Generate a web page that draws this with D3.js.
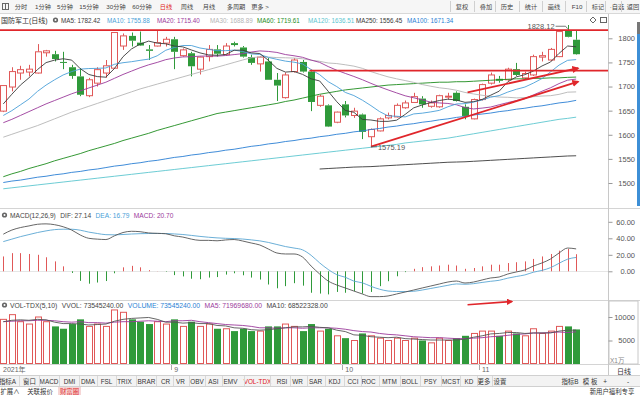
<!DOCTYPE html>
<html><head><meta charset="utf-8">
<script src="https://cdn.jsdelivr.net/npm/d3@7"></script>
<style>
html,body{margin:0;padding:0;background:#fff;overflow:hidden;}
svg{display:block;font-family:"Liberation Sans","Noto Sans CJK SC",sans-serif;}
</style></head><body>
<svg id="c" width="640" height="395"></svg>
<script>
// ---------- DATA ----------
const opens  = [1649,1699,1728,1730,1728,1770,1767,1751,1740,1721, 1681,1707,1728,1738,1784,1805,1791,1777,1784,1790, 1798,1764,1769,1736,1762,1777,1766,1790,1781,1761, 1747,1752,1714,1677,1731,1751,1731,1661,1661,1626, 1663,1640,1642,1596,1608,1635,1637,1656,1667,1675, 1659,1658,1678,1687,1658,1633,1673,1707,1716,1714, 1736,1718,1724,1761,1755,1762,1817,1797];
const highs  = [1703,1740,1743,1745,1788,1776,1774,1772,1745,1738, 1718,1740,1755,1813,1810,1812,1814,1786,1817,1803, 1803,1779,1772,1762,1786,1786,1790,1793,1784,1766, 1763,1759,1728,1729,1759,1755,1735,1683,1663,1648, 1670,1656,1644,1613,1636,1646,1665,1671,1687,1680, 1671,1683,1687,1690,1663,1675,1706,1729,1722,1739, 1749,1731,1766,1772,1780,1817,1828.12,1817];
const lows   = [1647,1690,1714,1721,1727,1762,1752,1736,1716,1680, 1678,1700,1718,1737,1776,1783,1784,1755,1783,1783, 1736,1762,1721,1725,1752,1762,1764,1783,1760,1745, 1731,1714,1670,1675,1729,1729,1649,1658,1616,1624, 1636,1635,1591,1575.19,1607,1632,1636,1654,1667,1656, 1656,1656,1673,1669,1632,1632,1671,1704,1708,1712, 1722,1716,1722,1752,1753,1761,1802,1766];
const closes = [1702,1731,1735,1736,1772,1774,1757,1749,1722,1683, 1714,1735,1743,1812,1805,1795,1785,1774,1791,1798, 1772,1776,1742,1761,1777,1768,1784,1786,1762,1749, 1761,1714,1702,1724,1755,1731,1668,1680,1617,1647, 1640,1649,1606,1611,1633,1640,1661,1666,1679,1663, 1666,1681,1680,1670,1639,1673,1704,1724,1712,1736, 1724,1727,1762,1764,1777,1814,1803,1767];

const ma5   = [1664,1684,1703,1718,1735.2,1749.6,1754.8,1757.6,1754.8,1737,1725,1720.6,1719.4,1737.4,1761.8,1778,1788,1794.2,1790,1788.6,1784,1782.2,1775.8,1769.8,1765.6,1764.8,1766.4,1775.2,1775.4,1769.8,1768.4,1754.4,1737.6,1730,1731.2,1725.2,1716,1711.6,1690.2,1668.6,1650.4,1646.6,1631.8,1630.6,1627.8,1627.8,1630.2,1642.2,1655.8,1661.8,1667,1671,1673.8,1672,1667.2,1668.6,1673.2,1682,1690.4,1709.8,1720,1724.6,1732.2,1742.6,1750.8,1768.8,1784,1782.42];
const ma10  = [1640,1650,1662,1674,1690,1703,1714,1724,1731,1736.1,1737.3,1737.7,1738.5,1746.1,1749.4,1751.5,1754.3,1756.8,1763.7,1775.2,1781,1785.1,1785,1779.9,1777.1,1774.4,1774.3,1775.5,1772.6,1767.7,1766.6,1760.4,1756.4,1752.7,1750.5,1746.8,1735.2,1724.6,1710.1,1699.9,1687.8,1681.3,1671.7,1660.4,1648.2,1639.1,1638.4,1637,1643.2,1644.8,1647.4,1650.6,1658,1663.9,1664.5,1667.8,1672.1,1677.9,1681.2,1688.5,1694.3,1698.9,1707.1,1716.5,1730.3,1744.4,1754.3,1755.88];
const ma20  = [1625,1632,1640,1648,1656,1664,1671,1678,1685,1691,1697,1703,1709,1717,1725,1732,1739,1745,1750,1755.7,1759.2,1761.4,1761.8,1763,1763.3,1763,1764.3,1766.2,1768.2,1771.5,1773.8,1772.8,1770.7,1766.3,1763.8,1760.6,1754.8,1750.1,1741.4,1733.8,1727.2,1720.9,1714.1,1706.6,1699.4,1693,1686.8,1680.8,1676.7,1672.4,1667.6,1666,1664.9,1662.2,1656.4,1653.5,1655.3,1657.5,1662.2,1666.7,1670.9,1674.8,1682.6,1690.2,1697.4,1706.1,1713.2,1715.4];
const ma30  = [1595,1601,1607,1613,1619,1626,1633,1640,1647,1653,1659,1665,1671,1677,1683,1689,1695,1700,1705,1710,1715,1720,1725,1730,1735,1740,1745,1750,1755,1759.7,1761.6,1761.1,1760,1759.6,1759,1757.6,1754.6,1752.3,1748.8,1747.6,1745.1,1742.3,1737.7,1731,1725.3,1720.1,1716,1712.4,1708.6,1704.1,1700.6,1697.4,1695.4,1692.3,1687.7,1684.6,1681.9,1679.8,1678.2,1677.7,1676.5,1676.9,1678.9,1680.3,1681,1683.8,1688.3,1688.89];
const ma60  = [1513,1519,1524,1530,1535,1540,1546,1551,1556,1561,1567,1572,1577,1582,1588,1593,1598,1603,1609,1614,1619,1624,1629,1634,1639,1644,1647,1650,1653,1656,1659,1662,1665,1669,1672,1676,1680,1684,1687,1690,1693,1695,1697,1699,1701,1703,1704,1705,1706,1707,1708,1709,1709,1710,1710,1711,1712,1713,1714,1715,1716,1716,1717,1717,1718,1718,1719,1719.61];
const ma120 = [1488,1490,1492,1494,1496,1498,1500,1502,1504,1506,1508,1510,1512,1514,1516,1518,1520,1522,1524,1526,1528,1530,1532,1534,1536,1538,1540,1542,1544,1546,1548,1550,1552,1554,1556,1558,1560,1562,1564,1566,1568,1570,1572,1574,1576,1578,1580,1583,1585,1587,1589,1591,1593,1596,1599,1602,1605,1608,1611,1614,1617,1620,1623,1626,1629,1632,1634,1636.51];
const ma250 = [null,null,null,null,null,null,null,null,null,null,null,null,null,null,null,null,null,null,null,null,null,null,null,null,null,null,null,null,null,null,null,null,null,null,null,null,null,1529,1530,1531,1532,1533,1533.5,1534,1535,1536,1537,1538,1539,1540,1541,1542,1543,1543.5,1544,1545,1546,1547,1548,1549,1550,1551,1552,1553,1554,1555,1556,1556.45];
const ma100 = [1501,1504,1506,1509,1512,1514,1517,1519,1522,1524,1527,1529,1532,1535,1537,1540,1542,1545,1547,1550,1553,1555,1558,1560,1563,1565,1568,1570,1573,1576,1578,1581,1583,1586,1588,1591,1593,1596,1598,1601,1603,1606,1608,1611,1613,1616,1618,1621,1623,1626,1628,1631,1633,1636,1638,1641,1643,1645,1648,1650,1653,1655,1658,1660,1663,1666,1668,1671.34];

const dif  = [45,50,53,55,57,57.5,56.5,54,50,44, 40,39,38.5,43,47,48.5,48,46.5,46,45.5, 43,41.5,39,37.5,37.5,37,38,38.5,36.7,34.3, 31.9,27.0,22.2,21.0,21.0,17.3,6.4,-3.3,-11.8,-16.6, -20.2,-23.9,-27.5,-30.7,-30.7,-29.9,-27.5,-25.1,-22.7,-20.2, -17.8,-15.4,-13.0,-11.8,-14.2,-13.0,-10.5,-8.1,-6.9,-3.3, -0.8,1.6,6.4,10.1,14.9,22.2,28.2,27.14];
const dea  = [36,39,42,44.5,47,49,50.5,51,51,49.8, 47.5,45.8,44.4,44.2,44.6,45.2,45.6,45.8,45.9,45.8, 45.3,44.6,43.5,42.3,41.3,40.5,40.0,39.7,39.1,38.1, 36.9,35.0,32.5,30.0,28.2,26.0,19.4,10.2,2.2,-4.1, -7.2,-11.9,-14.0,-18.2,-21.7,-23.9,-24.5,-24.6,-24.2,-22.7, -20.8,-18.9,-17.0,-15.3,-15.7,-15.0,-13.5,-12.1,-10.9,-8.3, -6.3,-4.4,-1.1,1.1,4.4,9.7,14.7,16.79];
const macd = [18,22,22,21,20,17,12,6,-2,-11.6, -15,-13.6,-11.8,-2.4,4.8,6.6,4.8,1.4,0.2,-0.6, -4.6,-6.2,-9,-9.6,-7.6,-7,-4,-2.4,-4.8,-7.6, -10,-16,-20.6,-18,-14.4,-17.4,-26,-27,-28,-25, -26,-24,-27,-25,-18,-12,-6,-1,3,5, 6,7,8,7,3,4,6,8,8,10, 11,12,15,18,21,25,27,20.70];

// volume in units of 10k (万)
const volume = [9500,10500,9000,8500,10000,9000,8000,7500,8500,9500, 8000,8500,8000,11500,11000,9500,9000,8500,9000,8500, 9500,8000,9000,8000,8500,7500,7500,7000,7500,7000, 7000,8000,8000,8500,8000,7000,8500,7000,7500,6000, 5500,5000,6500,6000,5500,5000,5500,5000,5500,5000, 4500,5500,5000,5500,6000,6500,7000,7000,6000,7000, 6500,6000,7500,6500,7000,8000,8000,7354.5];
const volMa5  = [9000,9300,9400,9300,9500,9400,8900,8600,8600,8500,8300,8400,8500,9100,9500,9700,9800,9900,9500,8900,8900,8700,8800,8600,8600,8200,8100,7700,7600,7300,7200,7300,7500,7700,7900,7900,8000,7800,7700,7200,6900,6200,6100,5800,5700,5600,5700,5400,5300,5200,5100,5100,5100,5100,5300,5700,6000,6400,6500,6700,6700,6500,6600,6600,6600,7000,7200,7197];
const volMa10 = [9000,9100,9200,9200,9300,9300,9200,9000,8900,9000,8800,8800,8700,8900,9000,9000,9100,9200,9100,9000,9200,9200,9300,9000,8800,8600,8400,8300,8200,8000,7700,7700,7600,7700,7700,7600,7700,7700,7700,7600,7400,7100,6900,6800,6500,6300,6200,6000,5800,5700,5600,5600,5500,5400,5400,5500,5600,5800,5900,6100,6300,6400,6600,6600,6700,6800,6700,6852];

const monthLabels = [{i:0,t:"2021年"},{i:20,t:"9"},{i:40,t:"10"},{i:56,t:"11"}];
const priceTicks = [1500,1550,1600,1650,1700,1750,1800];
const macdTicks = [0,20,40,60];
const volTicks = [5000,10000];
// user drawings (in data coordinates: candle index, price)
const hLines = [{from:-0.5,p:1817},{from:35.8,p:1733}];
const arrows = [{i0:43,p0:1575.19,i1:67,p1:1710},{i0:54.3,p0:1688,i1:67,p1:1738}];
const volArrow = {i0:54.3,v0:12600,i1:59.5,v1:13300};

const maLegend = [["MA5: 1782.42","#3a3a3a",61],["MA10: 1755.88","#4a9fd8",107],["MA20: 1715.40","#9b3a9b",157],["MA30: 1688.89","#b5b5b5",210],["MA60: 1719.61","#1e8c1e",257],["MA120: 1636.51","#5cc6cf",308],["MA250: 1556.45","#3a3a3a",356],["MA100: 1671.34","#2a7fd4",407]];
const topBar = ["分时","1分钟","5分钟","15分钟","30分钟","60分钟","日线","周线","月线","多周期","更多 >"];
const topBarX = [21,43,65,89,116,142,166,187,209,236,260];
const topRight = ["复权","叠加","历史","统计","画线","F10","标记","·自选","返回"];
const topRightX = [462,486,507,531,554,577,598,617,633];
const botBar = ["指标A","窗口","MACD","DMI","DMA","FSL","TRIX","BRAR","CR","VR","OBV","ASI","EMV","VOL-TDX","RSI","WR","SAR","KDJ","CCI","ROC","MTM","BOLL","PSY","MCST","KD","更多","设置"];
const botBarX = [7.5,29.5,49,69.5,88,106.5,124.5,146.5,165.5,180.5,197,213.5,230.5,257.5,282,297.5,315.5,334.5,353,368.5,389.5,410,430.5,451,469,484,500];

// ---------- DRAW ----------
const svg = d3.select("#c");
const RED="#e05858", GREEN="#2f9a3a", DRAW="#e0262b";
const x = d3.scaleLinear().domain([0,67]).range([3.3,576.15]);
const yP = d3.scaleLinear().domain([1500,1800]).range([183,38.3]);
const yM = d3.scaleLinear().domain([0,60]).range([271.3,221.8]);
const yV = d3.scaleLinear().domain([0,10000]).range([364,317]);
const AX = 608.5;

// backgrounds
svg.append("rect").attr("width",640).attr("height",395).attr("fill","#fff");
svg.append("rect").attr("x",0).attr("y",0).attr("width",640).attr("height",13).attr("fill","#f6f6f6");
svg.append("line").attr("x1",0).attr("x2",640).attr("y1",13.5).attr("y2",13.5).attr("stroke","#d8d8d8");
svg.append("rect").attr("x",0).attr("y",375).attr("width",640).attr("height",11).attr("fill","#f3f3f3");
svg.append("line").attr("x1",0).attr("x2",640).attr("y1",375.5).attr("y2",375.5).attr("stroke","#d0d0d0");
svg.append("line").attr("x1",0).attr("x2",640).attr("y1",386.5).attr("y2",386.5).attr("stroke","#d0d0d0");

// pane separators
[208.5,300.5,364.5].forEach(yy=>svg.append("line").attr("x1",0).attr("x2",640).attr("y1",yy).attr("y2",yy).attr("stroke","#d4d4d4"));
svg.append("line").attr("x1",AX).attr("x2",AX).attr("y1",14).attr("y2",375).attr("stroke","#c8c8c8");
svg.append("rect").attr("x",609).attr("y",301).attr("width",29).attr("height",63).attr("fill","none").attr("stroke","#c8c8c8");
svg.append("rect").attr("x",637).attr("y",22).attr("width",3).attr("height",12).attr("fill","#777");
svg.append("rect").attr("x",637).attr("y",34).attr("width",3).attr("height",172).attr("fill","#3d8fd6");

// top toolbar
svg.append("rect").attr("x",2.5).attr("y",3.5).attr("width",6).attr("height",6).attr("fill","none").attr("stroke","#666");
svg.append("line").attr("x1",5.5).attr("x2",5.5).attr("y1",3.5).attr("y2",9.5).attr("stroke","#666");
topBar.forEach((t,k)=>svg.append("text").attr("x",topBarX[k]).attr("y",9).attr("text-anchor","middle").attr("font-size",6.2).attr("fill",t==="日线"?"#e02020":"#444").text(t));
topRight.forEach((t,k)=>{
  svg.append("text").attr("x",topRightX[k]).attr("y",9).attr("text-anchor","middle").attr("font-size",6.2).attr("fill","#444").text(t);
  svg.append("line").attr("x1",topRightX[k]-11.5).attr("x2",topRightX[k]-11.5).attr("y1",1).attr("y2",12).attr("stroke","#d0d0d0");
});

// legends
function legend(y,x0,items,fs){
  let xx=x0;
  items.forEach(it=>{
    const t=svg.append("text").attr("x",xx).attr("y",y).attr("font-size",fs).attr("fill",it.c).text(it.t);
    xx+=t.node().getComputedTextLength()+(it.g===undefined?4.5:it.g);
  });
}
function eye(cx,cy){
  svg.append("circle").attr("cx",cx).attr("cy",cy).attr("r",2.6).attr("fill","#666");
  svg.append("circle").attr("cx",cx).attr("cy",cy).attr("r",1).attr("fill","#fff");
}
svg.append("text").attr("x",1).attr("y",22.5).attr("font-size",7).attr("fill","#333").text("国防军工(日线)");
eye(55.5,20);
maLegend.forEach(([t,c,xx])=>svg.append("text").attr("x",xx).attr("y",22.5).attr("font-size",6.3).attr("fill",c).text(t));
svg.append("path").attr("d","M593,17 l3,3 l-3,3 l-3,-3z").attr("fill","none").attr("stroke","#666");
svg.append("rect").attr("x",600.5).attr("y",17.5).attr("width",6).attr("height",5).attr("fill","none").attr("stroke","#666");

eye(4.5,215);
legend(217.5,10,[{t:"MACD(12,26,9)",c:"#444"},{t:"DIF: 27.14",c:"#444"},{t:"DEA: 16.79",c:"#4a9fd8"},{t:"MACD: 20.70",c:"#9b3a9b"}],6.6);
eye(4.5,305);
legend(307.5,10,[{t:"VOL-TDX(5,10)",c:"#444"},{t:"VVOL: 73545240.00",c:"#444"},{t:"VOLUME: 73545240.00",c:"#2a7fd4"},{t:"MA5: 71969680.00",c:"#9b3a9b"},{t:"MA10: 68522328.00",c:"#444"}],6.8);

// axes
function rightAxis(scale,major,minor,fmt){
  const g=svg.append("g").attr("transform",`translate(${AX},0)`);
  g.call(d3.axisRight(scale).tickValues(minor).tickSize(2).tickFormat(""));
  g.call(d3.axisRight(scale).tickValues(major).tickSize(4).tickFormat(fmt));
  g.selectAll(".domain").remove();
  g.selectAll("line").attr("stroke","#999");
  g.selectAll("text").attr("x",26.5).attr("text-anchor","end").attr("font-size",7.5).attr("fill","#555").attr("font-family","Liberation Sans, sans-serif");
}
rightAxis(yP,priceTicks,d3.range(1460,1830,10),d3.format("d"));
rightAxis(yM,macdTicks,d3.range(-30,70,5),d3.format(".2f"));
rightAxis(yV,volTicks,d3.range(1000,12000,1000),d3.format("d"));
svg.append("text").attr("x",610).attr("y",363).attr("font-size",6.5).attr("fill","#888").text("X1万");
svg.append("text").attr("x",624).attr("y",373.5).attr("text-anchor","middle").attr("font-size",7).attr("fill","#333").text("日线");

// clip
const defs=svg.append("defs");
defs.append("clipPath").attr("id","cp").append("rect").attr("x",0).attr("y",25).attr("width",608).attr("height",183);
defs.append("clipPath").attr("id","cm").append("rect").attr("x",0).attr("y",220).attr("width",608).attr("height",80);
defs.append("clipPath").attr("id","cv").append("rect").attr("x",0).attr("y",301).attr("width",608).attr("height",63);
defs.append("marker").attr("id","ar").attr("viewBox","0 0 10 10").attr("refX",8).attr("refY",5).attr("markerWidth",4).attr("markerHeight",4).attr("orient","auto")
  .append("path").attr("d","M0,0 L10,5 L0,10 z").attr("fill",DRAW);

// ---- price pane ----
const gp=svg.append("g").attr("clip-path","url(#cp)");
const idx=d3.range(closes.length);
const bw=6;
idx.forEach(i=>{
  const up=closes[i]>=opens[i];
  const cx=Math.round(x(i))+0.5;
  const col=up?RED:GREEN;
  const top=yP(Math.max(opens[i],closes[i])), bot=yP(Math.min(opens[i],closes[i]));
  gp.append("line").attr("x1",cx).attr("x2",cx).attr("y1",yP(highs[i])).attr("y2",top).attr("stroke",col);
  gp.append("line").attr("x1",cx).attr("x2",cx).attr("y1",bot).attr("y2",yP(lows[i])).attr("stroke",col);
  if(up){
    gp.append("rect").attr("x",cx-3).attr("y",top).attr("width",bw).attr("height",Math.max(bot-top,0.8)).attr("fill","#fff").attr("stroke",col);
  }else{
    gp.append("rect").attr("x",cx-3.5).attr("y",top).attr("width",bw+1).attr("height",Math.max(bot-top,1)).attr("fill",col);
  }
});
const maDefs=[[ma250,"#3a3a3a"],[ma120,"#5cc6cf"],[ma100,"#2a7fd4"],[ma60,"#1e8c1e"],[ma30,"#b5b5b5"],[ma20,"#9b3a9b"],[ma10,"#4a9fd8"],[ma5,"#3a3a3a"]];
maDefs.forEach(([arr,c])=>{
  gp.append("path").attr("d",d3.line().defined(d=>d!=null).x((d,i)=>x(i)).y(d=>yP(d))(arr)).attr("fill","none").attr("stroke",c).attr("stroke-width",0.9);
});
hLines.forEach(h=>gp.append("line").attr("x1",x(h.from)).attr("x2",608).attr("y1",yP(h.p)).attr("y2",yP(h.p)).attr("stroke",DRAW).attr("stroke-width",1.6));
arrows.forEach(a=>gp.append("line").attr("x1",x(a.i0)).attr("y1",yP(a.p0)).attr("x2",x(a.i1)+2).attr("y2",yP(a.p1)).attr("stroke",DRAW).attr("stroke-width",1.8).attr("marker-end","url(#ar)"));
const hiI=66, loI=43;
svg.append("path").attr("d",`M${x(hiI)-12},${yP(highs[hiI])+1.5} L${x(hiI)-2},${yP(highs[hiI])+1.5} L${x(hiI)},${yP(highs[hiI])+4}`).attr("fill","none").attr("stroke","#555").attr("stroke-width",0.8);
svg.append("text").attr("x",x(hiI)-13).attr("y",yP(highs[hiI])+4).attr("text-anchor","end").attr("font-size",7.5).attr("fill","#555").text(d3.format(".2f")(highs[hiI]));
svg.append("path").attr("d",`M${x(loI)},${yP(lows[loI])} L${x(loI)+6},${yP(lows[loI])}`).attr("stroke","#555").attr("stroke-width",0.8);
svg.append("text").attr("x",x(loI)+7).attr("y",yP(lows[loI])+3).attr("font-size",7.5).attr("fill","#555").text(d3.format(".2f")(lows[loI]));

// ---- MACD pane ----
const gm=svg.append("g").attr("clip-path","url(#cm)");
gm.append("line").attr("x1",0).attr("x2",608).attr("y1",Math.round(yM(0))+0.5).attr("y2",Math.round(yM(0))+0.5).attr("stroke","#e6e6e6");
idx.forEach(i=>{
  const cx=Math.round(x(i))+0.5;
  gm.append("line").attr("x1",cx).attr("x2",cx).attr("y1",yM(0)).attr("y2",yM(macd[i])).attr("stroke",macd[i]>=0?RED:GREEN).attr("stroke-width",1);
});
gm.append("path").attr("d",d3.line().curve(d3.curveMonotoneX).x((d,i)=>x(i)).y(d=>yM(d))(dea)).attr("fill","none").attr("stroke","#5aa6d2").attr("stroke-width",0.9);
gm.append("path").attr("d",d3.line().curve(d3.curveMonotoneX).x((d,i)=>x(i)).y(d=>yM(d))(dif)).attr("fill","none").attr("stroke","#555").attr("stroke-width",0.9);

// ---- VOL pane ----
const gv=svg.append("g").attr("clip-path","url(#cv)");
idx.forEach(i=>{
  const up=closes[i]>=opens[i];
  const cx=Math.round(x(i))+0.5;
  if(up) gv.append("rect").attr("x",cx-3).attr("y",yV(volume[i])).attr("width",bw).attr("height",yV(0)-yV(volume[i])-0.5).attr("fill","#fff").attr("stroke",RED);
  else gv.append("rect").attr("x",cx-3.5).attr("y",yV(volume[i])).attr("width",bw+1).attr("height",yV(0)-yV(volume[i])).attr("fill",GREEN);
});
gv.append("path").attr("d",d3.line().x((d,i)=>x(i)).y(d=>yV(d))(volMa10)).attr("fill","none").attr("stroke","#9b3a9b").attr("stroke-width",0.9);
gv.append("path").attr("d",d3.line().x((d,i)=>x(i)).y(d=>yV(d))(volMa5)).attr("fill","none").attr("stroke","#555").attr("stroke-width",0.9);
svg.append("line").attr("x1",x(volArrow.i0)).attr("y1",yV(volArrow.v0)).attr("x2",x(volArrow.i1)).attr("y2",yV(volArrow.v1)).attr("stroke",DRAW).attr("stroke-width",1.6).attr("marker-end","url(#ar)");

// x labels
monthLabels.forEach(m=>{
  if(m.i>0) svg.append("line").attr("x1",Math.round(x(m.i))-2.5).attr("x2",Math.round(x(m.i))-2.5).attr("y1",365).attr("y2",370).attr("stroke","#aaa");
  svg.append("text").attr("x",m.i===0?3:x(m.i)).attr("y",372).attr("font-size",7).attr("fill","#666").text(m.t);
});

// bottom toolbar
botBar.forEach((t,k)=>{
  svg.append("text").attr("x",botBarX[k]).attr("y",383.5).attr("text-anchor","middle").attr("font-size",6.4).attr("fill",t==="VOL-TDX"?"#e02020":"#333").text(t);
});
for(let k=1;k<botBar.length;k++){
  const sx=Math.round((botBarX[k-1]+botBarX[k])/2)+0.5;
  svg.append("line").attr("x1",sx).attr("x2",sx).attr("y1",376).attr("y2",386).attr("stroke","#d8d8d8");
}
[["指标B",570],["模 板",590],["+",605],["-",628]].forEach(([t,xx])=>svg.append("text").attr("x",xx).attr("y",383.5).attr("text-anchor","middle").attr("font-size",6.4).attr("fill","#333").text(t));
svg.append("rect").attr("x",58).attr("y",387).attr("width",23).attr("height",8).attr("fill","#f6d6d6");
[["扩展∧",10,"#333"],["关联报价",40,"#333"],["财富圈",69.5,"#e03030"],["新用户福利专享",612,"#333"]].forEach(([t,xx,c])=>svg.append("text").attr("x",xx).attr("y",393.5).attr("text-anchor","middle").attr("font-size",6.4).attr("fill",c).text(t));
</script>
</body></html>
